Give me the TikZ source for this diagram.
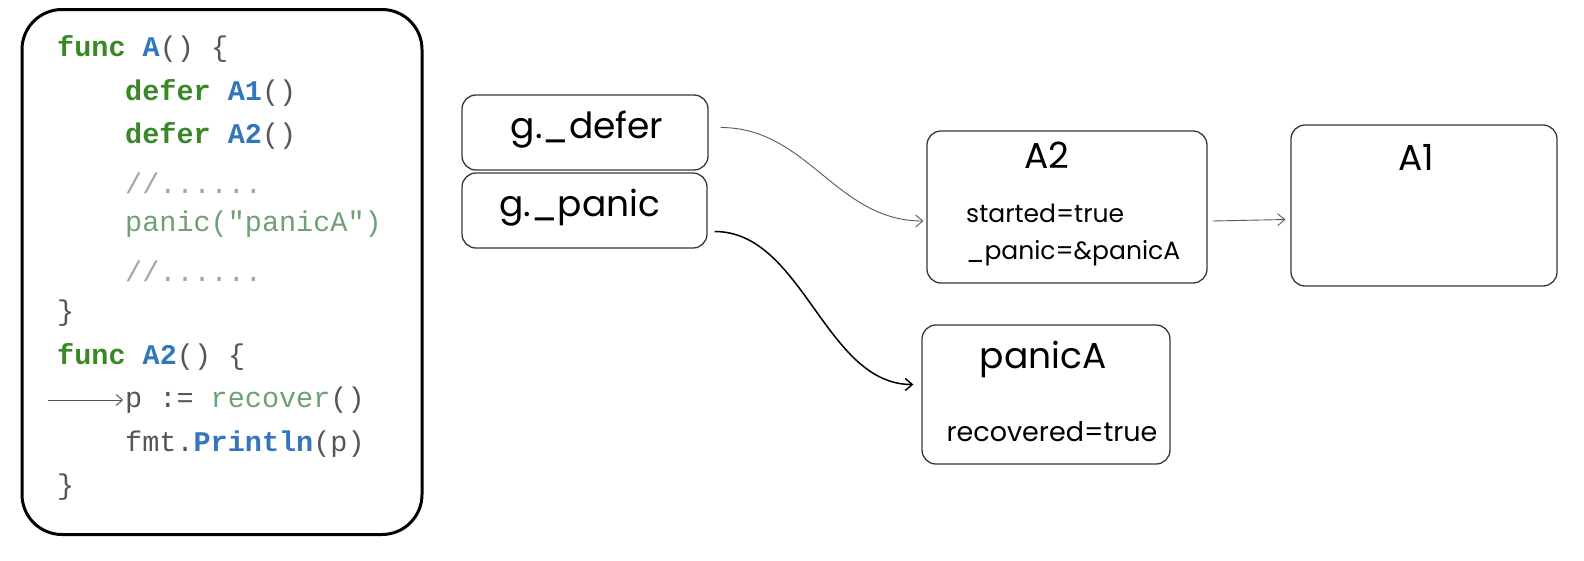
\documentclass[tikz,border=0pt]{standalone}
\usepackage{fontspec}
\setmonofont{Liberation Mono}
\newfontfamily\hand{Poppins}
\usetikzlibrary{arrows.meta,calc}
\definecolor{kwgreen}{RGB}{58,135,40}
\definecolor{fnblue}{RGB}{52,118,190}
\definecolor{ltgreen}{RGB}{110,160,115}
\definecolor{cmgray}{RGB}{165,165,165}
\definecolor{txgray}{RGB}{85,85,85}
\definecolor{linegray}{RGB}{55,55,55}
\newcommand{\kw}[1]{\textcolor{kwgreen}{\bfseries #1}}
\newcommand{\fn}[1]{\textcolor{fnblue}{\bfseries #1}}
\begin{document}
\begin{tikzpicture}[x=1pt,y=-1pt,
  codeline/.style={anchor=west,inner sep=0pt,font=\fontsize{28.5}{30}\selectfont\ttfamily,text=txgray},
  box/.style={draw=linegray,line width=1.3pt,rounded corners=14pt,inner sep=0pt},
  bigtxt/.style={inner sep=0pt,font=\fontsize{36}{40}\selectfont\hand},
  smalltxt/.style={inner sep=0pt,anchor=west,font=\fontsize{25}{28}\selectfont\hand},
  conn/.style={line width=1pt,draw=linegray,-{Straight Barb[length=7pt,width=12pt]}}
]
\useasboundingbox (0,0) rectangle (1584,560);
% code box
\node[draw=black,line width=3pt,rounded corners=40pt,minimum width=400pt,minimum height=525pt,inner sep=0pt] (code) at (222,272) {};
\node[codeline] (l1) at (57,48.5) {\kw{func} \fn{A}() \{};
\node[codeline] (l2) at (125,93) {\kw{defer} \fn{A1}()};
\node[codeline] (l3) at (125,136) {\kw{defer} \fn{A2}()};
\node[codeline,text=cmgray] (l4) at (125,183) {//......};
\node[codeline,text=ltgreen] (l5) at (125,224) {panic("panicA")};
\node[codeline,text=cmgray] (l6) at (125,271) {//......};
\node[codeline] (l7) at (57,313) {\}};
\node[codeline] (l8) at (57,357) {\kw{func} \fn{A2}() \{};
\node[codeline] (l9) at (125,400) {p := \textcolor{ltgreen}{recover}()};
\node[codeline] (l10) at (125,444) {fmt.\fn{Println}(p)};
\node[codeline] (l11) at (57,487) {\}};
\coordinate (arrS) at (48,400);
\draw[line width=1pt,txgray,-{Straight Barb[length=6pt,width=11pt]}] (arrS) -- ($(l9.west)+(-2,0)$);
% g boxes
\node[box,minimum width=246pt,minimum height=75pt] (gdefer) at (585,132.5) {};
\node[box,minimum width=245pt,minimum height=75pt] (gpanic) at (584.5,210.5) {};
\node[bigtxt] (tdefer) at (587,130) {g.\_defer};
\node[bigtxt] (tpanic) at (580,208) {g.\_panic};
% A2 box
\node[box,minimum width=280pt,minimum height=152pt] (A2) at (1067,207) {};
\node[bigtxt] (tA2) at (1047,155) {A2};
\node[smalltxt] (ts1) at (966,213) {started=true};
\node[smalltxt] (ts2) at (966,253) {\_panic=\&panicA};
% A1 box
\node[box,minimum width=266pt,minimum height=161pt] (A1) at (1424,205.5) {};
\node[bigtxt] (tA1) at (1416,157) {A1};
% panicA box
\node[box,minimum width=248pt,minimum height=139pt] (pA) at (1046,394.5) {};
\node[bigtxt] (tpA) at (1043,359) {panicA};
\node[inner sep=0pt,font=\fontsize{27}{30}\selectfont\hand] (trec) at (1052,432) {recovered=true};
% connectors
\draw[conn,line width=0.9pt,draw=black!65] ($(gdefer.east)+(12,-5)$) to[out=0,in=180,looseness=1] ($(A2.west)+(-3,14)$);
\draw[conn,line width=1.5pt,draw=black] ($(gpanic.east)+(7,21)$) to[out=0,in=180,looseness=0.9] ($(pA.west)+(-8,-10)$);
\draw[conn,line width=0.9pt,draw=black!65] ($(A2.east)+(5,14)$) -- ($(A1.west)+(-5,14)$);
\end{tikzpicture}
\end{document}
